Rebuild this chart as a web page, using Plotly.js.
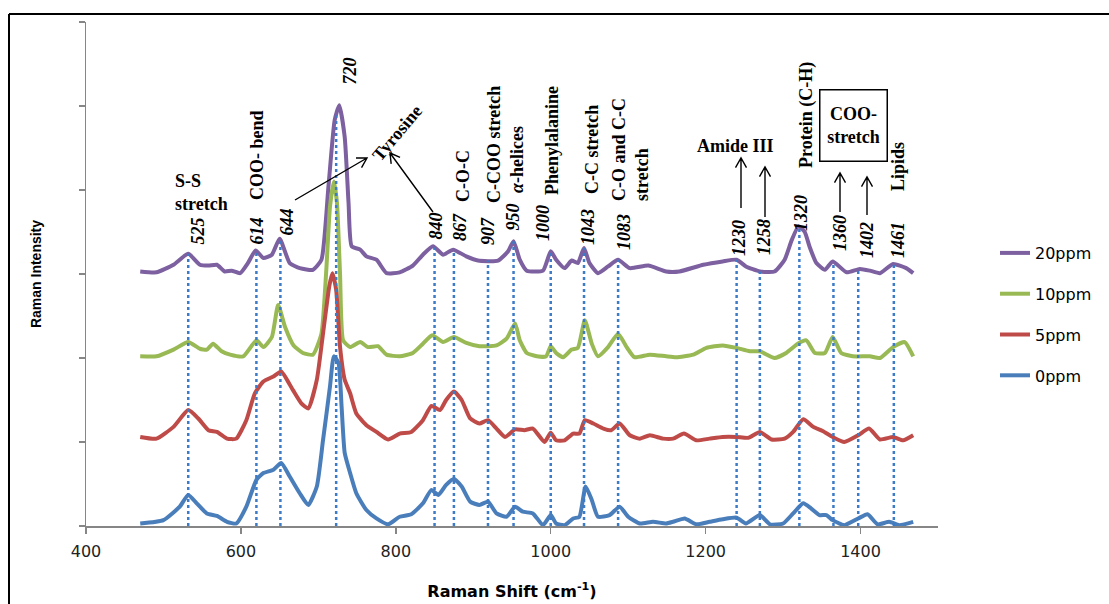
<!DOCTYPE html>
<html><head><meta charset="utf-8">
<script src="https://cdn.plot.ly/plotly-3.0.1.min.js"></script>
<style>html,body{margin:0;padding:0;background:#fff;}#chart{width:1109px;height:604px;}</style>
</head><body><div id="chart"></div>
<script>
// ---- data ----
const seriesNames = ['20ppm', '10ppm', '5ppm', '0ppm'];

const wn20 = [470,491,513,532,547,558,569,579,588,599,609,619,629,640,650,663,676,693,704,713,721,727,734,739,743,754,762,775,788,805,822,835,848,861,874,891,906,932,945,952,960,969,990,1000,1007,1018,1027,1035,1043,1050,1061,1074,1087,1102,1126,1149,1166,1197,1222,1240,1252,1270,1289,1302,1311,1320,1328,1334,1343,1354,1364,1382,1399,1412,1425,1442,1459,1468];
const int20 = [3.03,3.02,3.11,3.24,3.11,3.10,3.11,3.03,3.04,3.01,3.13,3.28,3.19,3.23,3.42,3.13,3.07,3.05,3.17,4.04,4.83,5.01,4.63,3.84,3.33,3.29,3.21,3.17,3.01,3.02,3.10,3.23,3.33,3.23,3.29,3.21,3.16,3.16,3.27,3.39,3.17,3.04,3.04,3.27,3.17,3.07,3.16,3.13,3.31,3.13,3.01,3.09,3.17,3.07,3.10,3.03,3.03,3.11,3.15,3.17,3.09,3.03,3.03,3.17,3.40,3.57,3.50,3.33,3.13,3.05,3.15,3.02,3.06,3.04,3.01,3.12,3.07,3.01];

const wn10 = [470,491,513,532,547,556,564,575,586,603,620,629,640,648,657,668,680,693,704,710,715,720,724,728,732,741,754,764,777,788,805,822,835,847,861,875,891,908,930,943,954,960,969,982,994,1000,1007,1016,1027,1035,1044,1053,1061,1074,1087,1098,1108,1128,1149,1162,1184,1201,1222,1240,1257,1270,1289,1304,1319,1330,1341,1354,1364,1375,1390,1412,1425,1442,1457,1468];
const int10 = [2.02,2.02,2.10,2.19,2.11,2.10,2.17,2.08,2.04,2.02,2.21,2.13,2.25,2.63,2.37,2.15,2.06,2.04,2.29,3.01,3.80,4.10,3.85,3.00,2.21,2.13,2.19,2.13,2.14,2.04,2.02,2.06,2.17,2.27,2.19,2.25,2.18,2.14,2.15,2.23,2.41,2.21,2.06,2.02,2.02,2.14,2.06,2.01,2.10,2.12,2.45,2.17,2.02,2.13,2.29,2.13,2.01,2.04,2.02,2.01,2.04,2.12,2.15,2.12,2.08,2.08,2.00,2.06,2.17,2.21,2.06,2.06,2.25,2.06,2.02,2.02,2.00,2.13,2.19,2.02];

const wn5 = [470,491,513,532,545,558,569,582,594,607,618,629,642,652,667,678,687,698,706,714,718,723,728,734,741,749,762,775,790,805,820,835,846,857,865,875,885,896,908,919,930,941,954,966,977,992,1000,1007,1018,1029,1037,1044,1055,1068,1078,1089,1102,1115,1128,1145,1158,1172,1188,1205,1222,1240,1255,1270,1285,1302,1313,1326,1339,1351,1364,1379,1397,1411,1425,1442,1455,1468];
const int5 = [1.06,1.04,1.18,1.38,1.28,1.14,1.12,1.04,1.04,1.26,1.58,1.72,1.78,1.84,1.62,1.46,1.40,1.74,2.29,2.85,3.01,2.81,2.13,1.74,1.58,1.34,1.20,1.12,1.03,1.10,1.12,1.26,1.43,1.38,1.50,1.60,1.50,1.28,1.22,1.26,1.16,1.06,1.15,1.14,1.16,1.00,1.11,1.02,1.02,1.10,1.10,1.26,1.22,1.16,1.14,1.22,1.08,1.04,1.08,1.04,1.04,1.10,1.02,1.04,1.06,1.06,1.05,1.12,1.03,1.04,1.12,1.27,1.18,1.13,1.06,1.00,1.08,1.16,1.03,1.06,1.02,1.08];

const wn0 = [470,500,521,532,543,556,569,582,594,607,620,629,642,652,663,676,687,698,706,715,720,726,730,734,741,749,762,775,790,805,820,835,846,855,865,875,885,896,908,919,930,943,954,964,977,990,1000,1007,1018,1029,1037,1045,1053,1061,1076,1089,1100,1115,1132,1149,1158,1173,1188,1205,1222,1240,1252,1270,1283,1300,1313,1326,1336,1347,1356,1364,1379,1397,1409,1422,1437,1450,1468];
const int0 = [0.03,0.07,0.23,0.37,0.27,0.15,0.12,0.05,0.03,0.23,0.55,0.63,0.67,0.75,0.59,0.39,0.25,0.47,1.02,1.66,2.02,1.94,1.42,0.87,0.63,0.39,0.19,0.09,0.02,0.11,0.14,0.27,0.43,0.37,0.49,0.56,0.47,0.29,0.25,0.29,0.15,0.11,0.23,0.17,0.15,0.01,0.13,0.03,0.01,0.09,0.11,0.47,0.31,0.11,0.13,0.23,0.11,0.03,0.05,0.03,0.05,0.09,0.02,0.05,0.08,0.10,0.03,0.13,0.02,0.03,0.15,0.27,0.21,0.13,0.13,0.07,0.01,0.09,0.14,0.02,0.05,0.01,0.05];

// marked band positions (where the dotted guides sit) and their printed labels
const peakShifts = [532,620,651,723,850,875,919,952,1000,1043,1087,1240,1270,1321,1365,1397,1443];
const peakLabels = ['525','614','644','720','840','867','907','950','1000','1043','1083','1230','1258','1320','1360','1402','1461'];

const xTicks = [400,600,800,1000,1200,1400];

// ---- presentation ----
const colors = {'20ppm':'#7D60A0','10ppm':'#98B954','5ppm':'#BE4B48','0ppm':'#4A7EBB'};
const seriesX = {'20ppm':wn20,'10ppm':wn10,'5ppm':wn5,'0ppm':wn0};
const seriesY = {'20ppm':int20,'10ppm':int10,'5ppm':int5,'0ppm':int0};

const L=86, T=22, W=852, H=504;
const PX = p => (p - L) / W;
const PY = p => (T + H - p) / H;

function interp(xs, ys, x){
  for (let i=0;i<xs.length-1;i++){
    if (x>=xs[i] && x<=xs[i+1]) return ys[i] + (ys[i+1]-ys[i])*(x-xs[i])/(xs[i+1]-xs[i]);
  }
  return ys[ys.length-1];
}

const traces = seriesNames.map(n => ({
  type:'scatter', mode:'lines', name:n, legendgroup:n,
  x: seriesX[n], y: seriesY[n],
  line:{color:colors[n], width:4, shape:'spline', smoothing:0.5},
  hoverinfo:'skip'
}));

const shapes = peakShifts.map(s => ({
  type:'line', xref:'x', yref:'y', x0:s, x1:s, y0:0, y1:interp(wn20,int20,s),
  line:{color:'#3C7BC8', width:2.5, dash:'dot'}, layer:'above'
}));
// outer frame (left + top edges)
shapes.push({type:'line', xref:'paper', yref:'paper', x0:PX(9), x1:PX(9), y0:PY(14), y1:PY(610), line:{color:'#000', width:2}});
shapes.push({type:'line', xref:'paper', yref:'paper', x0:PX(9), x1:PX(1115), y0:PY(14), y1:PY(14), line:{color:'#000', width:2}});

// pointer arrows with open V heads
function arrow(hx, hy, tx, ty){
  const dx = tx-hx, dy = ty-hy, len = Math.hypot(dx,dy);
  const ux = dx/len, uy = dy/len, a = Math.PI/6, s = 11;
  const w1x = hx + s*(ux*Math.cos(a) - uy*Math.sin(a)), w1y = hy + s*(ux*Math.sin(a) + uy*Math.cos(a));
  const w2x = hx + s*(ux*Math.cos(-a) - uy*Math.sin(-a)), w2y = hy + s*(ux*Math.sin(-a) + uy*Math.cos(-a));
  const P = (x,y) => PX(x)+','+PY(y);
  shapes.push({type:'path', xref:'paper', yref:'paper',
    path:'M'+P(tx,ty)+' L'+P(hx,hy)+' M'+P(w1x,w1y)+' L'+P(hx,hy)+' L'+P(w2x,w2y),
    line:{color:'#000', width:1.4}, layer:'above'});
}
arrow(367,158,295,200);
arrow(390,153,433,212);
arrow(741,158,741,208);
arrow(765,167,765,217);
arrow(840,173,840,212);
arrow(867,177,867,215);

const serif = 'Liberation Serif, Times New Roman, serif';
const tf = {family:serif, size:18, color:'#000'};
const annotations = [];

const labelCx = [198,257,286,349,435,460,488,513,543,588,624,739,764,801,840,867,898];
const labelBottom = [247,247,238,87,242,243,247,233,243,247,252,258,257,233,253,260,260];
peakLabels.forEach((t,i) => annotations.push({
  text:'<b><i>'+t+'</i></b>', textangle:-90, xref:'paper', yref:'paper',
  x:PX(labelCx[i]), y:PY(labelBottom[i]), xanchor:'center', yanchor:'bottom',
  showarrow:false, font:tf
}));

function note(text, cx, cy, angle, extra){
  annotations.push(Object.assign({text:text, textangle:angle, xref:'paper', yref:'paper',
    x:PX(cx), y:PY(cy), xanchor:'center', yanchor:'middle', showarrow:false, font:tf}, extra||{}));
}
note('<b>S-S</b><br><b>stretch</b>', 201, 192, 0, {align:'left'});
note('<b>COO- bend</b>', 257, 155, -90);
note('<b>Tyrosine</b>', 397, 133, -50);
note('<b>C-O-C</b>', 463, 176, -90);
note('<b>C-COO stretch</b>', 494, 145, -90);
note('<b><i>α</i>-helices</b>', 517, 160, -90);
note('<b>Phenylalanine</b>', 552, 141, -90);
note('<b>C-C stretch</b>', 592, 150, -90);
note('<b>C-O and C-C</b><br><b>stretch</b>', 630, 150, -90, {align:'left'});
note('<b>Amide III</b>', 735, 146, 0);
note('<b>Protein (C-H)</b>', 806, 115, -90);
note('<b>COO-</b><br><b>stretch</b>', 853, 125.5, 0, {bordercolor:'#000', borderwidth:1.5, borderpad:5, width:56, height:60, align:'center'});
note('<b>Lipids</b>', 898, 167, -90);

const sans = 'DejaVu Sans, Verdana, sans-serif';
const layout = {
  width:1109, height:604,
  margin:{l:L, r:1109-L-W, t:T, b:604-T-H},
  paper_bgcolor:'#fff', plot_bgcolor:'#fff',
  showlegend:true,
  legend:{x:PX(995), y:PY(236), xanchor:'left', yanchor:'top', tracegroupgap:17,
    font:{family:sans, size:16, color:'#000'}, bgcolor:'rgba(0,0,0,0)'},
  xaxis:{range:[400,1500], tickvals:xTicks, ticktext:xTicks.map(String), showgrid:false, zeroline:false,
    showline:true, linecolor:'#868686', linewidth:1.5, ticks:'outside', ticklen:6, tickcolor:'#868686', tickwidth:1.5,
    ticklabelstandoff:4,
    tickfont:{family:sans, size:16, color:'#222'},
    title:{text:'<b>Raman Shift (cm<sup>-1</sup>)</b>', font:{family:sans, size:16, color:'#000'}, standoff:26}},
  yaxis:{range:[0,6], dtick:1, tick0:0, showticklabels:false, showgrid:false, zeroline:false,
    showline:true, linecolor:'#868686', linewidth:1.5, ticks:'outside', ticklen:6, tickcolor:'#868686', tickwidth:1.5,
    title:{text:'<b>Raman Intensity</b>', font:{family:'Liberation Sans Narrow, Liberation Sans, Arial, sans-serif', size:14, color:'#000'}, standoff:33}},
  shapes:shapes, annotations:annotations
};

Plotly.newPlot('chart', traces, layout, {displayModeBar:false, staticPlot:true});
</script></body></html>
